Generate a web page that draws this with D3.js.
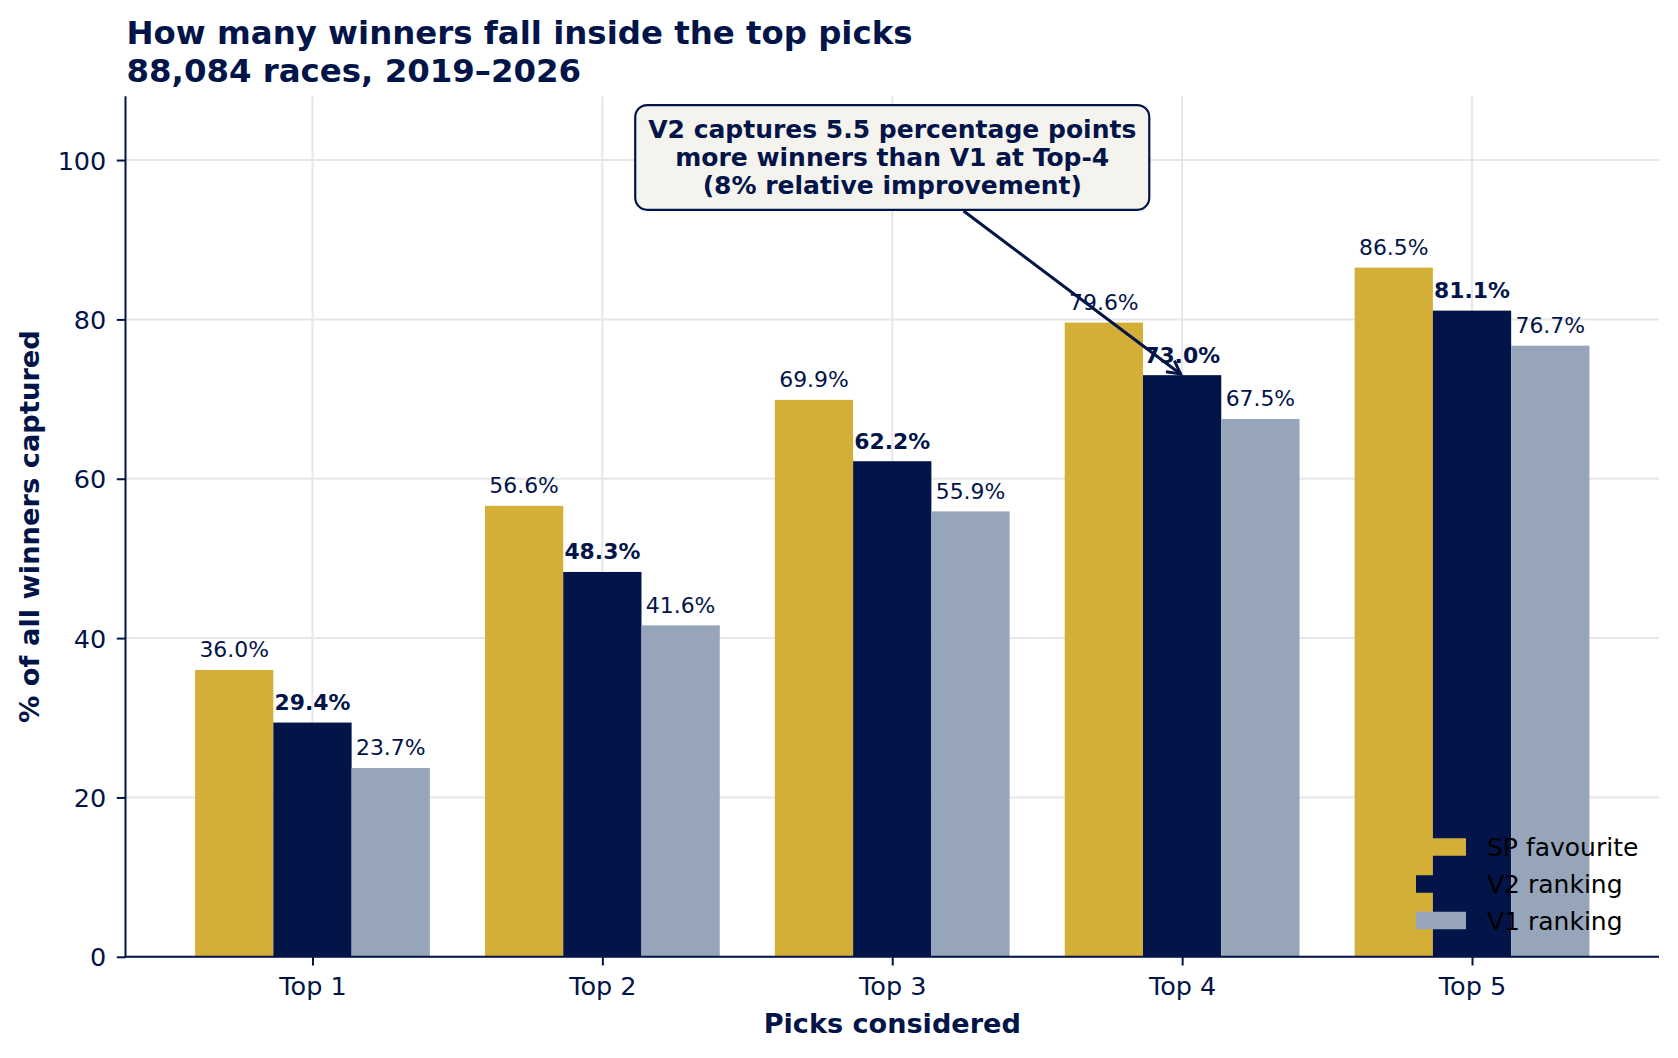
<!DOCTYPE html>
<html>
<head>
<meta charset="utf-8">
<script src="https://cdn.jsdelivr.net/npm/d3@7"></script>
<style>
  html, body { margin: 0; padding: 0; background: #ffffff; }
  svg { display: block; }
  text { font-family: "DejaVu Sans", sans-serif; }
</style>
</head>
<body>
<svg id="chart" width="1678" height="1058"></svg>
<script>
// ---- data ----
const categories = ["Top 1", "Top 2", "Top 3", "Top 4", "Top 5"];
const seriesNames = ["SP favourite", "V2 ranking", "V1 ranking"];
const spValues = [36.0, 56.6, 69.9, 79.6, 86.5];
const v2Values = [29.4, 48.3, 62.2, 73.0, 81.1];
const v1Values = [23.7, 41.6, 55.9, 67.5, 76.7];
const yTicks = [0, 20, 40, 60, 80, 100];
const titleLines = ["How many winners fall inside the top picks", "88,084 races, 2019\u20132026"];
const annotationLines = ["V2 captures 5.5 percentage points", "more winners than V1 at Top-4", "(8% relative improvement)"];

// ---- style ----
const NAVY = "#021448";
const GOLD = "#D4AF37";
const GREY = "#96A5BA";
const GRID = "#E6E6EC";
const colors = [GOLD, NAVY, GREY];
const barW = 0.27;

const svg = d3.select("#chart");
const plot = { left: 125.5, right: 1659, top: 96.3, bottom: 956.8 };

const x = d3.scaleLinear().domain([-0.645, 4.645]).range([plot.left, plot.right]);
const y = d3.scaleLinear().domain([0, 108]).range([plot.bottom, plot.top]);

const series = [spValues, v2Values, v1Values];

// grid
const g = svg.append("g");
g.selectAll(".hgrid").data(yTicks).enter().append("line")
  .attr("x1", plot.left).attr("x2", plot.right)
  .attr("y1", d => y(d)).attr("y2", d => y(d))
  .attr("stroke", GRID).attr("stroke-width", 2);
g.selectAll(".vgrid").data(categories).enter().append("line")
  .attr("x1", (d, i) => x(i)).attr("x2", (d, i) => x(i))
  .attr("y1", plot.top).attr("y2", plot.bottom)
  .attr("stroke", GRID).attr("stroke-width", 2);

// bars
series.forEach((vals, s) => {
  const off = (s - 1) * barW;
  svg.append("g").selectAll("rect").data(vals).enter().append("rect")
    .attr("x", (d, i) => x(i + off - barW / 2))
    .attr("width", x(barW) - x(0))
    .attr("y", d => y(d))
    .attr("height", d => y(0) - y(d))
    .attr("fill", colors[s]);
});

// value labels
series.forEach((vals, s) => {
  const off = (s - 1) * barW;
  svg.append("g").selectAll("text").data(vals).enter().append("text")
    .attr("x", (d, i) => x(i + off))
    .attr("y", d => y(d) - 12.5)
    .attr("text-anchor", "middle")
    .attr("font-size", "21.9px")
    .attr("font-weight", s === 1 ? "bold" : "normal")
    .attr("fill", NAVY)
    .text(d => d.toFixed(1) + "%");
});

// axes
const yAxis = d3.axisLeft(y).tickValues(yTicks).tickSize(8.7).tickPadding(10.5).tickFormat(d3.format("d"));
const yg = svg.append("g").attr("transform", `translate(${plot.left},0)`).call(yAxis);
yg.select(".domain").remove();
yg.selectAll(".tick line").attr("stroke", NAVY).attr("stroke-width", 2);
yg.selectAll(".tick text").attr("fill", NAVY).attr("font-size", "25.5px")
  .attr("font-family", "DejaVu Sans").attr("dy", "0.36em");

const xAxis = d3.axisBottom(x).tickValues(d3.range(categories.length)).tickSize(8.7).tickPadding(6)
  .tickFormat(i => categories[i]);
const xg = svg.append("g").attr("transform", `translate(0,${plot.bottom})`).call(xAxis);
xg.select(".domain").remove();
xg.selectAll(".tick line").attr("stroke", NAVY).attr("stroke-width", 2);
xg.selectAll(".tick text").attr("fill", NAVY).attr("font-size", "25.5px")
  .attr("font-family", "DejaVu Sans").attr("dy", null).attr("y", 38.2);

// spines
svg.append("line").attr("x1", plot.left).attr("x2", plot.left)
  .attr("y1", plot.top).attr("y2", plot.bottom + 1).attr("stroke", NAVY).attr("stroke-width", 2);
svg.append("line").attr("x1", plot.left - 1).attr("x2", plot.right)
  .attr("y1", plot.bottom).attr("y2", plot.bottom).attr("stroke", NAVY).attr("stroke-width", 2);

// axis labels
svg.append("text").attr("x", (plot.left + plot.right) / 2).attr("y", 1032.7)
  .attr("text-anchor", "middle").attr("font-size", "27.1px").attr("font-weight", "bold")
  .attr("fill", NAVY).text("Picks considered");
svg.append("text")
  .attr("transform", `translate(39,${(plot.top + plot.bottom) / 2}) rotate(-90)`)
  .attr("text-anchor", "middle").attr("font-size", "27.3px").attr("font-weight", "bold")
  .attr("fill", NAVY).text("% of all winners captured");

// title
svg.append("g").selectAll("text").data(titleLines).enter().append("text")
  .attr("x", 126.5).attr("y", (d, i) => 44 + i * 37.7)
  .attr("font-size", "32.4px").attr("font-weight", "bold").attr("fill", NAVY)
  .text(d => d);

// legend
const leg = svg.append("g");
const legY = [847, 884, 920.5];
seriesNames.forEach((name, s) => {
  leg.append("rect").attr("x", 1416).attr("y", legY[s] - 8.75).attr("width", 50).attr("height", 17.5)
    .attr("fill", colors[s]);
  leg.append("text").attr("x", 1487).attr("y", legY[s] + 9)
    .attr("font-size", "25px").attr("fill", "#000000").text(name);
});

// annotation
const ax = x(2), ay = y(100);
const tx = x(3), ty = y(73.0);
const lineStep = 27.8;
const annG = svg.append("g");
const boxRect = annG.append("rect");
const annTexts = annG.selectAll("text").data(annotationLines).enter().append("text")
  .attr("x", ax).attr("y", (d, i) => ay + 5.8 + (i - 1) * lineStep)
  .attr("text-anchor", "middle").attr("font-size", "25px").attr("font-weight", "bold")
  .attr("fill", NAVY).text(d => d);
let maxW = 0;
annTexts.each(function () { maxW = Math.max(maxW, this.getComputedTextLength()); });
const bx0 = ax - maxW / 2 - 13, bx1 = ax + maxW / 2 + 13;
const by0 = ay + 5.8 - lineStep - 33, by1 = ay + 5.8 + lineStep + 16.2;
boxRect.attr("x", bx0).attr("y", by0).attr("width", bx1 - bx0).attr("height", by1 - by0)
  .attr("rx", 12).attr("ry", 12)
  .attr("fill", "#F4F3EE").attr("stroke", NAVY).attr("stroke-width", 2.2);

// arrow from box edge to target
const cy = (by0 + by1) / 2, cx = ax;
const dx = tx - cx, dy = ty - cy;
const len = Math.hypot(dx, dy);
const ux = dx / len, uy = dy / len;
const tExit = (by1 - cy) / uy;
const sx = cx + ux * (tExit + 2), sy = cy + uy * (tExit + 2);
const ex = tx - ux * 2, ey = ty - uy * 2;
const arrowG = svg.append("g");
arrowG.append("line").attr("x1", sx).attr("y1", sy).attr("x2", ex).attr("y2", ey)
  .attr("stroke", NAVY).attr("stroke-width", 3);
const hl = 13, hw = 7;
const px = -uy, py = ux;
const bxh = ex - ux * hl, byh = ey - uy * hl;
arrowG.append("path")
  .attr("d", `M${bxh + px * hw},${byh + py * hw} L${ex},${ey} L${bxh - px * hw},${byh - py * hw}`)
  .attr("fill", "none").attr("stroke", NAVY).attr("stroke-width", 3).attr("stroke-linejoin", "miter");
</script>
</body>
</html>
